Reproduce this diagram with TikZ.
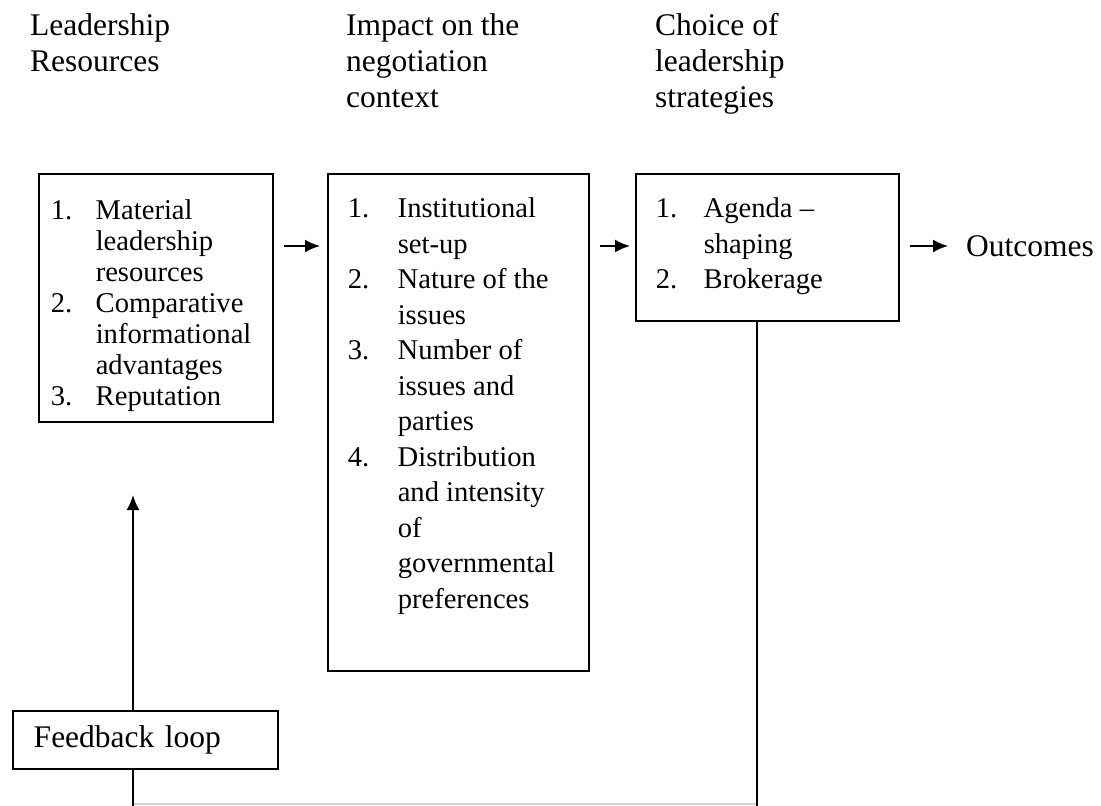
\documentclass[tikz,border=0pt]{standalone}
\usepackage{fontspec}
\setmainfont{Liberation Serif}
\usetikzlibrary{arrows.meta, positioning, calc}
\tikzset{
	box/.style={
		draw,
		line width=1.5pt,
		anchor=north west,
		inner sep=0pt
	},
	arrow/.style={
		-{Latex[length=15pt, width=13pt]},
		line width=2pt
	}
}
\newcommand{\bigtxt}{\fontsize{31.5}{36}\selectfont}
\newcommand{\listtxt}[1]{\fontsize{28.6}{#1}\selectfont}
\newcommand{\boxbody}[4]{\parbox[t][#2][t]{#1}{\vspace*{#3}#4}}

\begin{document}
\begin{tikzpicture}[x=1pt, y=-1pt]
		\useasboundingbox (0,0) rectangle (1101,806);
		% Style des titres
		\tikzstyle{head}=[anchor=base west, inner sep=0pt, font=\bigtxt]
		
		%--- Titres des colonnes ---
		\node[head] (hres) at (30,35) {\parbox[t]{260pt}{Leadership\\Resources}};
		\node[head] (hctx) at (346,35) {\parbox[t]{260pt}{Impact on the\\negotiation\\context}};
		\node[head] (hstrat) at (655,35) {\parbox[t]{260pt}{Choice of\\leadership\\strategies}};
		
		%--- Les trois boîtes ---
		\node[box] (res) at (38,173) {\boxbody{234pt}{248pt}{24.5pt}{\listtxt{31}
			\begin{tabular}[t]{@{\hspace{12pt}}p{45pt}@{}l@{}}
				1. & Material\\ & leadership\\ & resources\\
				2. & Comparative\\ & informational\\ & advantages\\
				3. & Reputation
			\end{tabular}}};
		\node[box] (ctx) at (327,173) {\boxbody{261pt}{497pt}{19pt}{\listtxt{35.5}
			\begin{tabular}[t]{@{\hspace{20pt}}p{50pt}@{}l@{}}
				1. & Institutional\\ & set-up\\
				2. & Nature of the\\ & issues\\
				3. & Number of\\ & issues and\\ & parties\\
				4. & Distribution\\ & and intensity\\ & of\\ & governmental\\ & preferences
			\end{tabular}}};
		\node[box] (strat) at (635,173) {\boxbody{263pt}{147pt}{19pt}{\listtxt{35.5}
			\begin{tabular}[t]{@{\hspace{20pt}}p{48pt}@{}l@{}}
				1. & Agenda --\\ & shaping\\
				2. & Brokerage
			\end{tabular}}};
		\node[head, anchor=west] (out) at (966,246) {Outcomes};
		
		% Boîte de rétroaction
		\node[box, font=\bigtxt, minimum width=265pt, minimum height=58pt, align=left, text width=223pt, inner xsep=21pt] (fb) at (12,710) {Feedback loop};
		
		%--- Points de passage ---
		\coordinate (lvl) at (0,246);
		\coordinate (fbtip) at (133,495);
		\coordinate (loopL) at (133,804);
		\coordinate (loopR) at (757,804);
		
		%--- Flèches entre les boîtes ---
		\draw[arrow] ($(res.east |- lvl)+(10,0)$) -- ($(ctx.west |- lvl)+(-7,0)$);
		\draw[arrow] ($(ctx.east |- lvl)+(10,0)$) -- ($(strat.west |- lvl)+(-5,0)$);
		\draw[arrow] ($(strat.east |- lvl)+(10,0)$) -- ($(out.west)+(-18,0)$);
		
		%--- Boucle de rétroaction ---
		\draw[arrow] (fb.north -| fbtip) -- (fbtip);
		\draw[line width=2pt] (fb.south -| loopL) -- ($(loopL)+(0,2)$);
		\draw[line width=2pt] (strat.south -| loopR) -- ($(loopR)+(0,2)$);
		\draw[line width=1.5pt, black!18] ($(loopL)+(1,0)$) -- ($(loopR)+(-1,0)$);
	\end{tikzpicture}
\end{document}
